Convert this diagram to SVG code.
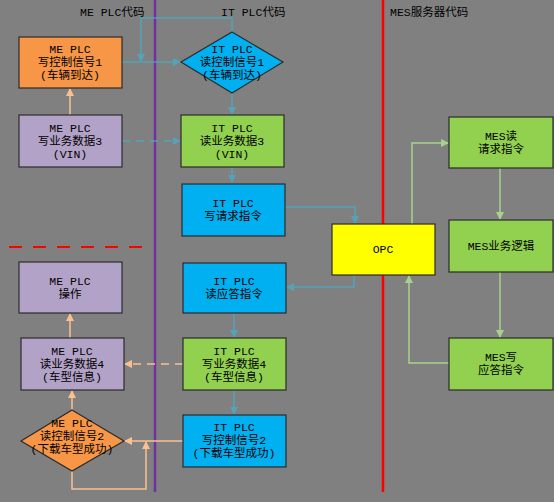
<svg xmlns="http://www.w3.org/2000/svg" width="554" height="502" viewBox="0 0 554 502">
<style>
text{font-family:"Liberation Mono","Noto Sans CJK SC",monospace;font-size:11.5px;fill:#000;text-anchor:middle}
.hdr{text-anchor:start}
.n{stroke:#2b2b2b;stroke-width:1.2}
.or{fill:#F79646}.pu{fill:#B3A2C7}.gr{fill:#92D050}.bl{fill:#00B0F0}.ye{fill:#FFFF00}
.cb{fill:none;stroke:#4BACC6;stroke-width:1.5;opacity:.8}
.co{fill:none;stroke:#FAC090;stroke-width:1.5}
.cg{fill:none;stroke:#A9D18E;stroke-width:1.5}
.dash{stroke-dasharray:8,6}
</style>
<defs>
<marker id="ab" markerWidth="8" markerHeight="8" refX="7" refY="4" orient="auto" markerUnits="userSpaceOnUse"><path d="M0,0L8,4L0,8z" fill="#4BACC6"/></marker>
<marker id="ao" markerWidth="8" markerHeight="8" refX="7" refY="4" orient="auto" markerUnits="userSpaceOnUse"><path d="M0,0L8,4L0,8z" fill="#FAC090"/></marker>
<marker id="ag" markerWidth="8" markerHeight="8" refX="7" refY="4" orient="auto" markerUnits="userSpaceOnUse"><path d="M0,0L8,4L0,8z" fill="#A9D18E"/></marker>
</defs>
<rect width="554" height="502" fill="#808080"/>
<line x1="155" y1="0" x2="155" y2="492" stroke="#7030A0" stroke-width="2.5"/>
<line x1="383" y1="0" x2="383" y2="492" stroke="#FF0000" stroke-width="2.5"/>
<line x1="9" y1="247" x2="142" y2="247" stroke="#FF0000" stroke-width="2" stroke-dasharray="13,11"/>
<text class="hdr" x="80" y="16">ME PLC代码</text>
<text class="hdr" x="221" y="16">IT PLC代码</text>
<text class="hdr" x="390" y="16">MES服务器代码</text>
<g id="connectors">
<path class="cb" d="M122,62H180" marker-end="url(#ab)"/>
<path class="cb" d="M232,32V18H141V61" marker-end="url(#ab)"/>
<path class="co" d="M70,115V89" marker-end="url(#ao)"/>
<path class="cb dash" d="M122,141H180" marker-end="url(#ab)"/>
<path class="cb" d="M232,93V114" marker-end="url(#ab)"/>
<path class="cb" d="M232,167V182" marker-end="url(#ab)"/>
<path class="cb" d="M285,207H355V223" marker-end="url(#ab)"/>
<path class="cb" d="M354,275V287H287" marker-end="url(#ab)"/>
<path class="cb" d="M234,313V337" marker-end="url(#ab)"/>
<path class="co dash" d="M183,364H125" marker-end="url(#ao)"/>
<path class="cb" d="M234,390V414" marker-end="url(#ab)"/>
<path class="co" d="M183,441H125" marker-end="url(#ao)"/>
<path class="co" d="M72,471V489H146V442" marker-end="url(#ao)"/>
<path class="co" d="M72,410V391" marker-end="url(#ao)"/>
<path class="co" d="M70,338V314" marker-end="url(#ao)"/>
<path class="cg" d="M412,224V143H448" marker-end="url(#ag)"/>
<path class="cg" d="M500,168V219" marker-end="url(#ag)"/>
<path class="cg" d="M500,272V337" marker-end="url(#ag)"/>
<path class="cg" d="M449,363H409V276" marker-end="url(#ag)"/>
</g>
<g id="me1"><rect class="n or" x="19" y="37" width="103" height="51"/><text x="70" y="53">ME PLC</text><text x="70" y="66">写控制信号1</text><text x="70" y="79">(车辆到达)</text></g>
<g id="it1"><path class="n bl" d="M232,32L283,62L232,93L181,62z"/><text x="232" y="53">IT PLC</text><text x="232" y="66">读控制信号1</text><text x="232" y="79">(车辆到达)</text></g>
<g id="me3"><rect class="n pu" x="19" y="115" width="103" height="52"/><text x="70" y="132">ME PLC</text><text x="70" y="145">写业务数据3</text><text x="70" y="158">(VIN)</text></g>
<g id="it3"><rect class="n gr" x="181" y="115" width="103" height="52"/><text x="232" y="132">IT PLC</text><text x="232" y="145">读业务数据3</text><text x="232" y="158">(VIN)</text></g>
<g id="itreq"><rect class="n bl" x="182" y="184" width="103" height="52"/><text x="233" y="207">IT PLC</text><text x="233" y="220">写请求指令</text></g>
<g id="opc"><rect class="n ye" x="332" y="224" width="103" height="51"/><text x="383" y="253">OPC</text></g>
<g id="mesread"><rect class="n gr" x="449" y="117" width="104" height="51"/><text x="501" y="140">MES读</text><text x="501" y="153">请求指令</text></g>
<g id="meslogic"><rect class="n gr" x="449" y="220" width="104" height="52"/><text x="501" y="250">MES业务逻辑</text></g>
<g id="meswrite"><rect class="n gr" x="449" y="338" width="104" height="52"/><text x="501" y="361">MES写</text><text x="501" y="374">应答指令</text></g>
<g id="meop"><rect class="n pu" x="19" y="262" width="103" height="51"/><text x="70" y="285">ME PLC</text><text x="70" y="298">操作</text></g>
<g id="itresp"><rect class="n bl" x="183" y="263" width="103" height="50"/><text x="234" y="285">IT PLC</text><text x="234" y="298">读应答指令</text></g>
<g id="me4"><rect class="n pu" x="21" y="338" width="103" height="52"/><text x="72" y="355">ME PLC</text><text x="72" y="368">读业务数据4</text><text x="72" y="381">(车型信息)</text></g>
<g id="it4"><rect class="n gr" x="183" y="338" width="103" height="52"/><text x="234" y="355">IT PLC</text><text x="234" y="368">写业务数据4</text><text x="234" y="381">(车型信息)</text></g>
<g id="me2"><path class="n or" d="M72,410L124,441L72,471L21,441z"/><text x="72" y="427">ME PLC</text><text x="72" y="440">读控制信号2</text><text x="72" y="453">(下载车型成功)</text></g>
<g id="it2"><rect class="n bl" x="183" y="415" width="103" height="52"/><text x="234" y="431">IT PLC</text><text x="234" y="444">写控制信号2</text><text x="234" y="457">(下载车型成功)</text></g>
</svg>
